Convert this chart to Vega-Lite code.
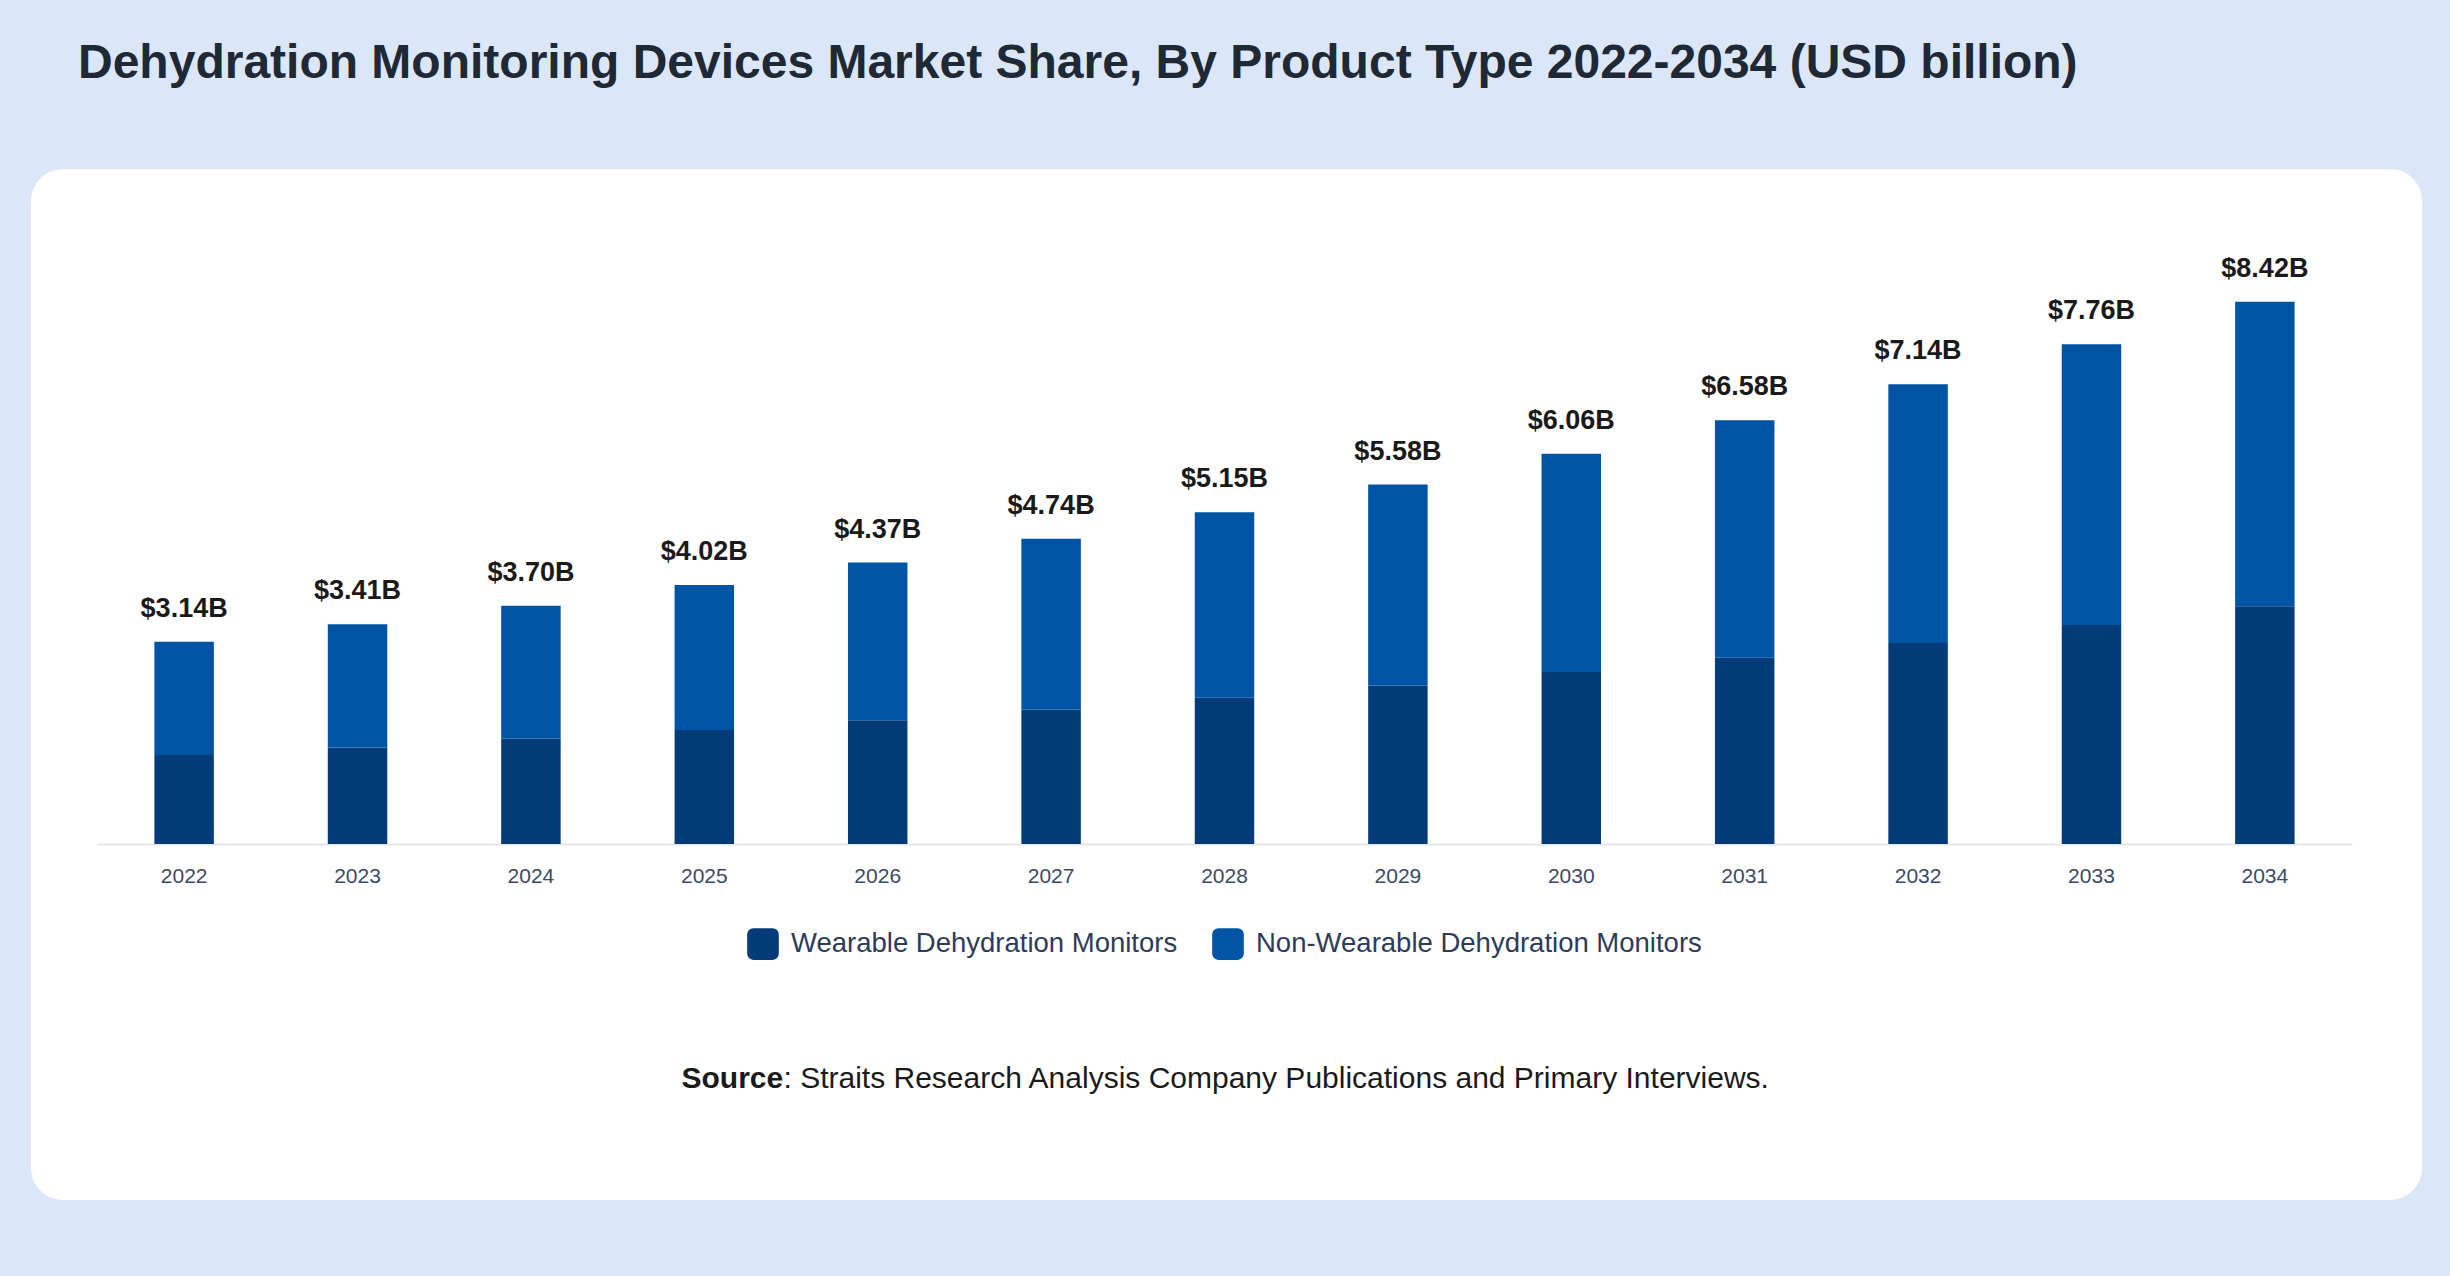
{
  "$schema": "https://vega.github.io/schema/vega-lite/v6.json",
  "width": 2391,
  "height": 1031,
  "autosize": {"type": "none"},
  "padding": {"left": 31, "top": 169, "right": 28, "bottom": 76},
  "background": "#dbe7f8",
  "title": {
    "text": "Dehydration Monitoring Devices Market Share, By Product Type 2022-2034 (USD billion)",
    "anchor": "start",
    "frame": "group",
    "dx": 47,
    "offset": 43,
    "baseline": "alphabetic",
    "fontSize": 48,
    "fontWeight": "bold",
    "color": "#1e2935"
  },
  "config": {
    "font": "Liberation Sans",
    "view": {"fill": "white", "stroke": null, "cornerRadius": 32}
  },
  "data": {
    "values": [
      {"year": "2022", "segment": "Wearable Dehydration Monitors", "value": 1.38},
      {"year": "2022", "segment": "Non-Wearable Dehydration Monitors", "value": 1.76},
      {"year": "2023", "segment": "Wearable Dehydration Monitors", "value": 1.50},
      {"year": "2023", "segment": "Non-Wearable Dehydration Monitors", "value": 1.91},
      {"year": "2024", "segment": "Wearable Dehydration Monitors", "value": 1.64},
      {"year": "2024", "segment": "Non-Wearable Dehydration Monitors", "value": 2.06},
      {"year": "2025", "segment": "Wearable Dehydration Monitors", "value": 1.77},
      {"year": "2025", "segment": "Non-Wearable Dehydration Monitors", "value": 2.25},
      {"year": "2026", "segment": "Wearable Dehydration Monitors", "value": 1.92},
      {"year": "2026", "segment": "Non-Wearable Dehydration Monitors", "value": 2.45},
      {"year": "2027", "segment": "Wearable Dehydration Monitors", "value": 2.09},
      {"year": "2027", "segment": "Non-Wearable Dehydration Monitors", "value": 2.65},
      {"year": "2028", "segment": "Wearable Dehydration Monitors", "value": 2.27},
      {"year": "2028", "segment": "Non-Wearable Dehydration Monitors", "value": 2.88},
      {"year": "2029", "segment": "Wearable Dehydration Monitors", "value": 2.46},
      {"year": "2029", "segment": "Non-Wearable Dehydration Monitors", "value": 3.12},
      {"year": "2030", "segment": "Wearable Dehydration Monitors", "value": 2.67},
      {"year": "2030", "segment": "Non-Wearable Dehydration Monitors", "value": 3.39},
      {"year": "2031", "segment": "Wearable Dehydration Monitors", "value": 2.89},
      {"year": "2031", "segment": "Non-Wearable Dehydration Monitors", "value": 3.69},
      {"year": "2032", "segment": "Wearable Dehydration Monitors", "value": 3.12},
      {"year": "2032", "segment": "Non-Wearable Dehydration Monitors", "value": 4.02},
      {"year": "2033", "segment": "Wearable Dehydration Monitors", "value": 3.40},
      {"year": "2033", "segment": "Non-Wearable Dehydration Monitors", "value": 4.36},
      {"year": "2034", "segment": "Wearable Dehydration Monitors", "value": 3.69},
      {"year": "2034", "segment": "Non-Wearable Dehydration Monitors", "value": 4.73}
    ]
  },
  "resolve": {"axis": {"x": "independent"}},
  "layer": [
    {
      "mark": {"type": "bar"},
      "encoding": {
        "x": {
          "field": "year",
          "type": "ordinal",
          "scale": {"range": [66, 2321], "paddingInner": 0.657, "paddingOuter": 0.331},
          "axis": {
            "orient": "bottom",
            "offset": -356,
            "ticks": false,
            "labelAngle": 0,
            "labelFontSize": 21,
            "labelColor": "#3b4a66",
            "labelPadding": 21,
            "domainColor": "#e3e6ea",
            "domainWidth": 2,
            "grid": false,
            "title": "Source",
            "titleX": 650,
            "titleY": 234,
            "titleAlign": "left",
            "titleAnchor": null,
            "titleBaseline": "middle",
            "titleFontSize": 30,
            "titleFontWeight": "bold",
            "titleColor": "#1a1a1a",
            "titleAngle": 0
          }
        },
        "y": {
          "field": "value",
          "type": "quantitative",
          "stack": "zero",
          "scale": {"domain": [-5.527, 10.48], "zero": false, "nice": false},
          "axis": null
        },
        "color": {
          "field": "segment",
          "type": "nominal",
          "scale": {
            "domain": ["Wearable Dehydration Monitors", "Non-Wearable Dehydration Monitors"],
            "range": ["#033c79", "#0054a6"]
          },
          "legend": {
            "orient": "none",
            "legendX": 716,
            "legendY": 759,
            "direction": "horizontal",
            "title": null,
            "symbolType": "M-0.6,-1H0.6A0.4,0.4 0 0 1 1,-0.6V0.6A0.4,0.4 0 0 1 0.6,1H-0.6A0.4,0.4 0 0 1 -1,0.6V-0.6A0.4,0.4 0 0 1 -0.6,-1Z",
            "symbolSize": 1000,
            "symbolStrokeWidth": 0,
            "symbolOpacity": 1,
            "labelFontSize": 27.5,
            "labelColor": "#2d3b5a",
            "labelOffset": 12,
            "labelLimit": 0,
            "columnPadding": 34
          }
        },
        "order": {"field": "segment", "sort": "descending"}
      }
    },
    {
      "transform": [
        {"aggregate": [{"op": "sum", "field": "value", "as": "total"}], "groupby": ["year"]},
        {"calculate": "'$' + format(datum.total, '.2f') + 'B'", "as": "label"}
      ],
      "mark": {"type": "text", "baseline": "alphabetic", "dy": -25, "fontSize": 27, "fontWeight": "bold", "color": "#1a1a1a"},
      "encoding": {
        "x": {
          "field": "year",
          "type": "ordinal",
          "axis": {
            "orient": "bottom",
            "offset": -356,
            "labels": false,
            "ticks": false,
            "domain": false,
            "grid": false,
            "title": ": Straits Research Analysis Company Publications and Primary Interviews.",
            "titleX": 752,
            "titleY": 234,
            "titleAlign": "left",
            "titleAnchor": null,
            "titleBaseline": "middle",
            "titleFontSize": 30,
            "titleFontWeight": "normal",
            "titleColor": "#1a1a1a",
            "titleAngle": 0
          }
        },
        "y": {"field": "total", "type": "quantitative"},
        "text": {"field": "label"}
      }
    }
  ]
}
